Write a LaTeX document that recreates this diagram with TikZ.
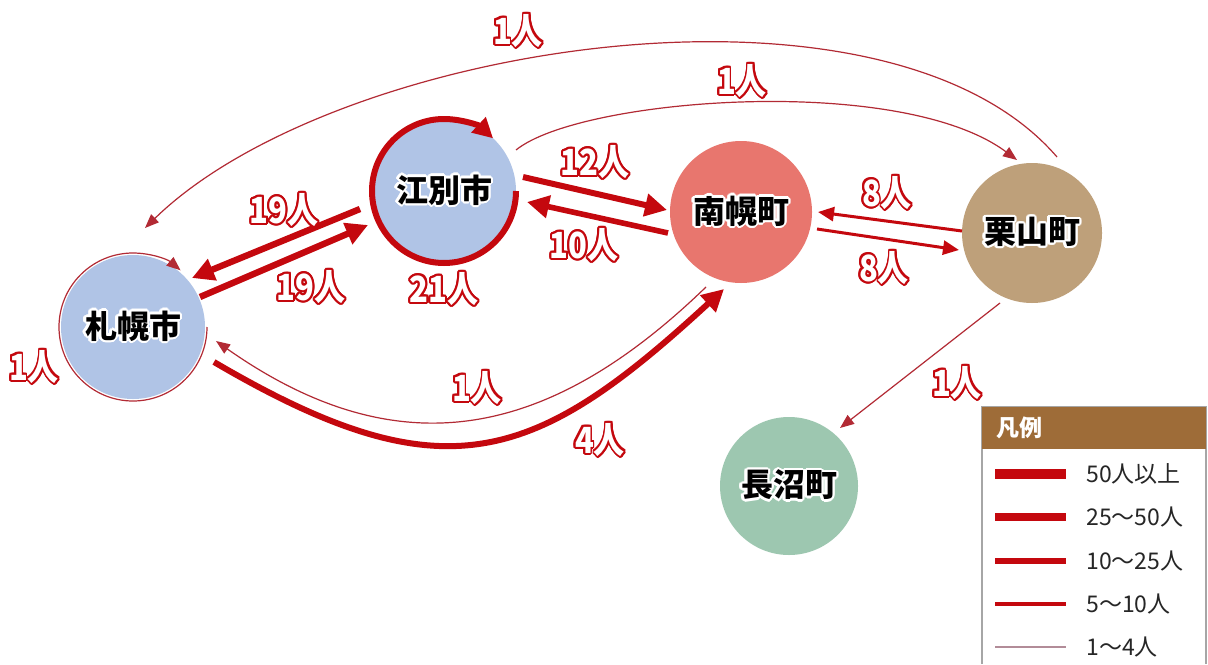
\documentclass[tikz,border=0pt]{standalone}
\usepackage{fontspec}
\setmainfont{Noto Sans CJK JP}
\usepackage[copies]{contour}
\usetikzlibrary{arrows.meta}
\definecolor{arr}{RGB}{196,8,14}
\definecolor{thinred}{RGB}{178,42,52}
\definecolor{cblue}{RGB}{176,196,230}
\definecolor{csalmon}{RGB}{232,118,110}
\definecolor{ctan}{RGB}{190,160,122}
\definecolor{cgreen}{RGB}{157,199,176}
\definecolor{legbrown}{RGB}{158,108,56}
\definecolor{leggray}{RGB}{178,140,152}
\contourlength{1.1pt}
\newcommand\numlab[1]{\scalebox{0.86}[1]{\contour{arr}{#1}}}
\newcommand\townlab[1]{\contour{white}{#1}}
\begin{document}
\begin{tikzpicture}[x=0.5pt,y=-0.5pt,
  town/.style={circle, inner sep=0pt, minimum size=#1, font=\bfseries\fontsize{16}{18}\selectfont, text=black},
  lab/.style={inner sep=0pt, text=white, font=\bfseries\fontsize{18}{20}\selectfont},
  thickflow/.style={draw=arr, line width=3.2pt, -{Triangle[length=11pt,width=11pt]}},
  midflow/.style={draw=arr, line width=1.5pt, -{Triangle[length=8pt,width=7pt]}},
  thinflow/.style={draw=thinred, line width=0.6pt, -{Triangle[length=7pt,width=5.5pt]}},
  legline/.style={draw=arr, line width=#1},
  legtext/.style={anchor=west, inner sep=0pt, font=\fontsize{11.5}{13}\selectfont, text=black!85},
]
\fill[white, use as bounding box] (0,0) rectangle (1208,664);

% towns
\node[town=72pt, fill=cblue] (S) at (133,327) {\townlab{札幌市}};
\node[town=72pt, fill=cblue] (E) at (444,191) {\townlab{江別市}};
\node[town=71pt, fill=csalmon] (N) at (741,212) {\townlab{南幌町}};
\node[town=70pt, fill=ctan] (K) at (1032,233) {\townlab{栗山町}};
\node[town=69pt, fill=cgreen] (G) at (789,486) {\townlab{長沼町}};

% self flows
\draw[thinflow] ([shift={(0:37pt)}]S.center) arc[start angle=0, end angle=-310, radius=37pt];
\draw[draw=arr, line width=3pt, -{Triangle[length=10pt,width=10pt]}] ([shift={(0:36pt)}]E.center) arc[start angle=0, end angle=-313, radius=36pt];

% straight flows
\draw[thickflow] ([shift={(-84,18)}]E.center) -- ([shift={(59,-49)}]S.center);
\draw[thickflow] ([shift={(67,-30)}]S.center) -- ([shift={(-76,34)}]E.center);
\draw[thickflow, line width=3pt] ([shift={(79,-14)}]E.center) -- ([shift={(-74,-2)}]N.center);
\draw[thickflow, line width=2.8pt] ([shift={(-73,21)}]N.center) -- ([shift={(83,11)}]E.center);
\draw[midflow] ([shift={(-70,-2)}]K.center) -- ([shift={(77,0)}]N.center);
\draw[midflow] ([shift={(76,17)}]N.center) -- ([shift={(-73,17)}]K.center);
\draw[thinflow] ([shift={(-32,70)}]K.center) -- ([shift={(51,-58)}]G.center);

% curved flows
\draw[thinflow] ([shift={(25,-76)}]K.center) .. controls +(-172,-200) and +(190,-185) .. ([shift={(12,-99)}]S.center);
\draw[thinflow] ([shift={(72,-41)}]E.center) .. controls +(64,-52) and +(-117,-87) .. ([shift={(-15,-73)}]K.center);
\draw[thinflow] ([shift={(-35,75)}]N.center) .. controls +(-155,150) and +(185,130) .. ([shift={(83,14)}]S.center);
\draw[thickflow, line width=3pt] ([shift={(81,35)}]S.center) .. controls +(230,135) and +(-190,175) .. ([shift={(-17,77)}]N.center);

% labels
\node[lab] (l1) at (518,32) {\numlab{1人}};
\node[lab] (l2) at (742,82) {\numlab{1人}};
\node[lab] (l3) at (284,211) {\numlab{19人}};
\node[lab] (l4) at (311,288) {\numlab{19人}};
\node[lab] (l5) at (444,290) {\numlab{21人}};
\node[lab] (l6) at (595,163) {\numlab{12人}};
\node[lab] (l7) at (584,246) {\numlab{10人}};
\node[lab] (l8) at (887,194) {\numlab{8人}};
\node[lab] (l9) at (884,269) {\numlab{8人}};
\node[lab] (l10) at (34,368) {\numlab{1人}};
\node[lab] (l11) at (477,389) {\numlab{1人}};
\node[lab] (l12) at (600,441) {\numlab{4人}};
\node[lab] (l13) at (957,384) {\numlab{1人}};

% legend
\fill[white] (982,407) rectangle (1206,664);
\draw[gray!70, line width=0.8pt] (982,664) -- (982,407) -- (1206,407) -- (1206,664);
\fill[legbrown] (982,407) rectangle (1206,449);
\node[anchor=west, inner sep=0pt, text=white, font=\bfseries\fontsize{11.5}{13}\selectfont] (legtitle) at (996,428) {凡例};
\draw[legline=5pt] (995,474) -- (1066,474);
\draw[legline=4pt] (995,517) -- (1066,517);
\draw[legline=3pt] (995,561) -- (1066,561);
\draw[legline=1.6pt] (995,604) -- (1066,604);
\draw[draw=leggray, line width=0.9pt] (995,647) -- (1066,647);
\node[legtext] (t1) at (1086,474) {50人以上};
\node[legtext] (t2) at (1086,517) {25～50人};
\node[legtext] (t3) at (1086,561) {10～25人};
\node[legtext] (t4) at (1086,604) {5～10人};
\node[legtext] (t5) at (1086,647) {1～4人};
\end{tikzpicture}
\end{document}
